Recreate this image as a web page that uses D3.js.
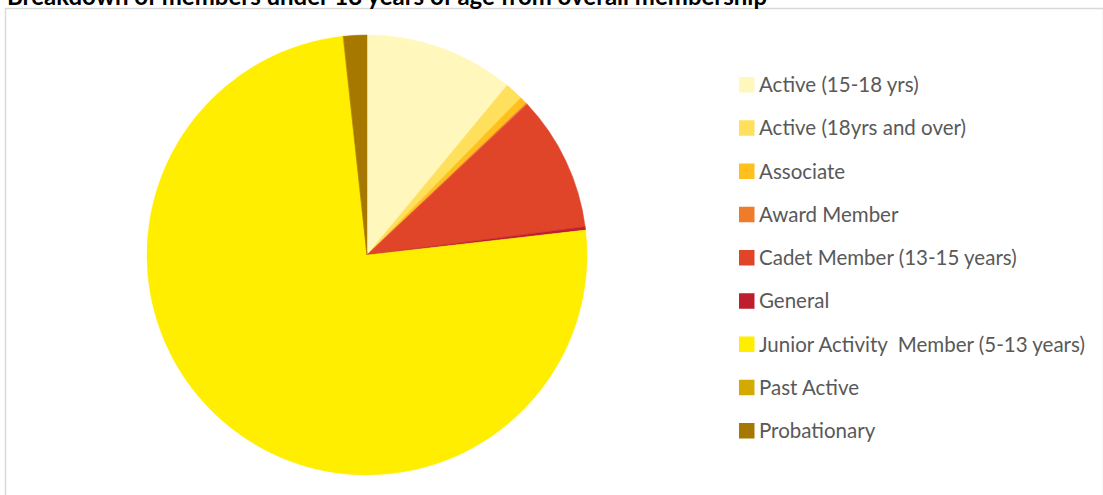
<!DOCTYPE html>
<html>
<head>
<meta charset="utf-8">
<script src="https://cdn.jsdelivr.net/npm/d3@7"></script>
<style>
  body { margin: 0; background: #fff; }
  svg { display: block; }
</style>
</head>
<body>
<svg id="chart"></svg>
<script>
// membership categories and their share (%)
const categories = ['Active (15-18 yrs)',
    'Active (18yrs and over)',
    'Associate',
    'Award Member',
    'Cadet Member (13-15 years)',
    'General',
    'Junior Activity  Member (5-13 years)',
    'Past Active',
    'Probationary']
const shares = [10.99, 1.34, 0.56, 0.1, 9.97, 0.25, 75.1, 0.05, 1.7]
const colours = ['#fff7bc', '#ffe05c', '#ffc01e', '#f07b2a', '#e0452a',
    '#be1e2d', '#ffee00', '#d4aa00', '#a67800']

const width = 1103
const height = 495
const cx = 367, cy = 255, radius = 220

const svg = d3.select('#chart')
    .attr('width', width)
    .attr('height', height)

// chart area border
svg.append('rect')
    .attr('x', 5.5)
    .attr('y', 8.5)
    .attr('width', 1098)
    .attr('height', 500)
    .attr('fill', 'none')
    .attr('stroke', '#d9d9d9')
    .attr('stroke-width', 1.5)

// title, partly cut by the top of the window (as in the original)
svg.append('text')
    .attr('x', 7)
    .attr('y', 5)
    .attr('font-family', 'Lato, sans-serif')
    .attr('font-weight', 'bold')
    .attr('font-size', '24px')
    .attr('fill', '#000')
    .text('Breakdown of members under 18 years of age from overall membership')

const data = categories.map((c, i) => ({name: c, value: shares[i]}))

const pie = d3.pie()
    .sort(null)
    .value(d => d.value)

const arc = d3.arc()
    .innerRadius(0)
    .outerRadius(radius)

const colour = d3.scaleOrdinal()
    .domain(categories)
    .range(colours)

svg.append('g')
    .attr('transform', `translate(${cx},${cy})`)
    .selectAll('path')
    .data(pie(data))
    .join('path')
    .attr('d', arc)
    .attr('fill', d => colour(d.data.name))
    .attr('stroke', d => colour(d.data.name))
    .attr('stroke-width', 0.5)

// legend
const legendY = d3.scalePoint()
    .domain(categories)
    .range([85, 431])

const legend = svg.append('g')
    .attr('id', 'legend')

const item = legend.selectAll('g')
    .data(categories)
    .join('g')
    .attr('transform', d => `translate(739,${legendY(d)})`)

item.append('rect')
    .attr('x', 0)
    .attr('y', -8)
    .attr('width', 15.5)
    .attr('height', 15.5)
    .attr('fill', d => colour(d))

item.append('text')
    .attr('x', 20)
    .attr('y', 0)
    .attr('dy', '0.35em')
    .attr('font-family', 'Lato, sans-serif')
    .attr('font-size', '20.5px')
    .attr('fill', '#595959')
    .style('white-space', 'pre')
    .text(d => d)
</script>
</body>
</html>
